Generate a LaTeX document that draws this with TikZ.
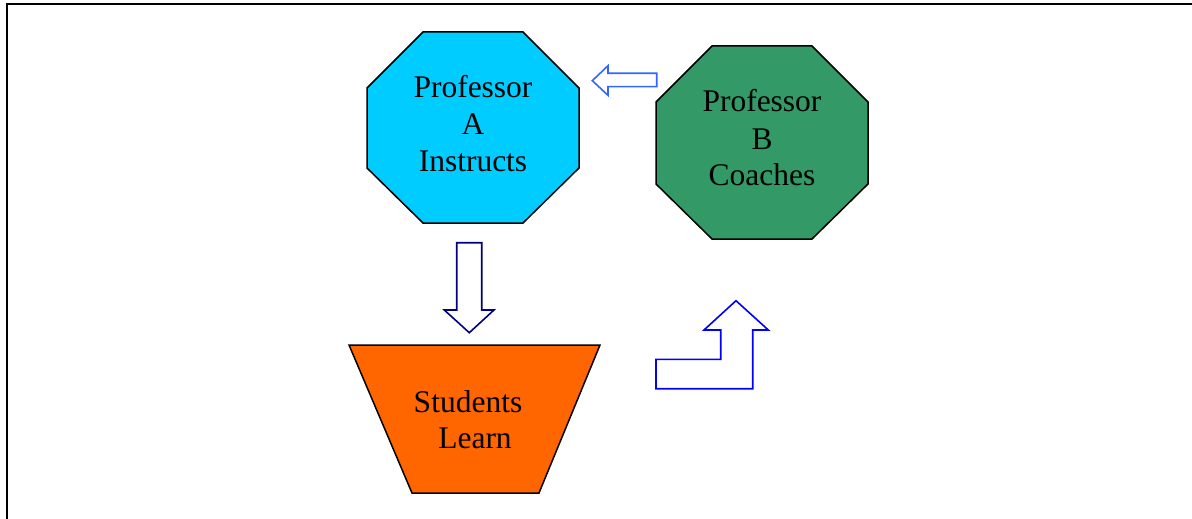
\documentclass[tikz,border=0pt]{standalone}
\usepackage{fontspec}
\setmainfont{Liberation Serif}
\definecolor{cyanA}{RGB}{0,204,255}
\definecolor{greenB}{RGB}{51,153,102}
\definecolor{orangeS}{RGB}{255,102,0}
\definecolor{navyArrow}{RGB}{0,0,128}
\definecolor{blueArrow}{RGB}{0,0,255}
\definecolor{lightBlueArrow}{RGB}{51,102,255}
\begin{document}
\begin{tikzpicture}[x=1pt,y=-1pt,
  shapeline/.style={draw=black, line width=1.5pt, line join=miter},
  lbl/.style={font=\fontsize{31.5}{37}\selectfont, inner sep=0pt, anchor=base},
  blockarrow/.style={line width=1.6pt, fill=white, line join=miter}]
\useasboundingbox (0,0) rectangle (1192,519);
% frame
\draw[line width=2pt] (1192,4) -- (7,4) -- (7,519);
% Professor A octagon
\draw[shapeline, fill=cyanA] (423,32) -- (523,32) -- (579,88) -- (579,168) -- (523,223) -- (423,223) -- (367,168) -- (367,88) -- cycle;
\node[lbl] (a1) at (473,97.3) {Professor};
\node[lbl] (a2) at (473,134.3) {A};
\node[lbl] (a3) at (473,171.7) {Instructs};
% Professor B octagon
\draw[shapeline, fill=greenB] (712,46) -- (812,46) -- (868,102) -- (868,184) -- (812,239) -- (712,239) -- (656,184) -- (656,102) -- cycle;
\node[lbl] (b1) at (762,111.7) {Professor};
\node[lbl] (b2) at (762,149.3) {B};
\node[lbl] (b3) at (762,185.7) {Coaches};
% Students trapezoid
\draw[shapeline, fill=orangeS] (349,345) -- (600,345) -- (539,493) -- (412,493) -- cycle;
\node[lbl] (s1) at (468,412) {Students};
\node[lbl] (s2) at (475,448) {Learn};
% left arrow (B -> A)
\draw[blockarrow, draw=lightBlueArrow] (656.7,73.3) -- (608,73.3) -- (608,65.7) -- (592.3,80.7) -- (608,95.3) -- (608,86.7) -- (656.7,86.7) -- cycle;
% down arrow (A -> Students)
\draw[blockarrow, draw=navyArrow] (456.7,242.7) -- (481.7,242.7) -- (481.7,310) -- (494,310) -- (469.3,332.7) -- (444.3,310) -- (456.7,310) -- cycle;
% bent up arrow (Students -> B)
\draw[blockarrow, draw=blueArrow] (656,359.3) -- (720.7,359.3) -- (720.7,330) -- (704,330) -- (736,300.7) -- (768.3,330) -- (752.7,330) -- (752.7,388.7) -- (656,388.7) -- cycle;
\end{tikzpicture}
\end{document}
